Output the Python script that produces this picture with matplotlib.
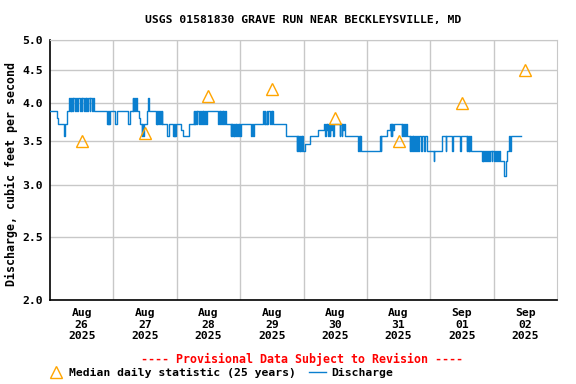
import matplotlib
matplotlib.use("Agg")
import matplotlib.pyplot as plt
from matplotlib.lines import Line2D
from matplotlib.ticker import FixedLocator, NullFormatter, NullLocator

# hours since Aug 26 2025 00:00, discharge (cfs) held until the next entry
discharge_steps = [
    (0.0, 3.89), (2.5, 3.80), (3.0, 3.72), (5.3, 3.56), (5.8, 3.72), (6.5, 3.89),
    (7.2, 4.07), (7.6, 3.89), (7.8, 4.07), (8.1, 3.89), (8.3, 4.07), (8.6, 3.89),
    (8.8, 4.07), (9.5, 3.89), (9.8, 4.07), (10.3, 3.89), (10.6, 4.07), (11.3, 3.89),
    (11.6, 4.07), (12.0, 3.89), (12.3, 4.07), (12.8, 3.89), (13.1, 4.07), (13.5, 3.89),
    (13.8, 4.07), (14.2, 3.89), (14.5, 4.07), (15.0, 3.89), (15.3, 4.07), (15.8, 3.89),
    (16.1, 4.07), (16.6, 3.89),
    (21.5, 3.72), (21.8, 3.89), (22.0, 3.72), (22.3, 3.89), (22.5, 3.72), (22.7, 3.89),
    (24.6, 3.72), (25.2, 3.89), (29.7, 3.72), (30.3, 3.89),
    (31.3, 4.07), (31.6, 3.89), (31.8, 4.07), (32.2, 3.89), (32.4, 4.07), (32.8, 3.89),
    (33.8, 3.80), (34.0, 3.72), (34.7, 3.56), (35.0, 3.72), (35.4, 3.56), (35.7, 3.72),
    (36.6, 3.89), (37.2, 4.07), (37.6, 3.89),
    (40.1, 3.72), (40.4, 3.89), (40.7, 3.72), (41.0, 3.89), (41.4, 3.72), (41.7, 3.89),
    (42.0, 3.72), (42.3, 3.89), (42.6, 3.72),
    (44.4, 3.56), (45.2, 3.72), (46.7, 3.56), (46.9, 3.72), (47.1, 3.56), (47.3, 3.72),
    (47.5, 3.56), (47.8, 3.72), (49.5, 3.64), (50.2, 3.56), (52.8, 3.72), (54.5, 3.89),
    (54.7, 3.72), (54.9, 3.89), (55.1, 3.72), (55.3, 3.89), (55.6, 3.72), (55.8, 3.89),
    (56.6, 3.72), (56.9, 3.89), (57.3, 3.72), (57.5, 3.89), (57.8, 3.72), (58.0, 3.89),
    (58.4, 3.72), (58.7, 3.89), (59.0, 3.72), (59.3, 3.89),
    (63.7, 3.72), (63.9, 3.89), (64.2, 3.72), (64.4, 3.89), (64.7, 3.72), (65.0, 3.89),
    (65.4, 3.72), (65.6, 3.89), (65.9, 3.72), (66.1, 3.89), (66.5, 3.72),
    (68.5, 3.56), (68.7, 3.72), (68.9, 3.56), (69.1, 3.72), (69.3, 3.56), (69.5, 3.72),
    (69.8, 3.56), (70.0, 3.72), (70.3, 3.56), (70.5, 3.72), (70.9, 3.56), (71.1, 3.72),
    (71.4, 3.56), (71.6, 3.72), (71.9, 3.56), (72.2, 3.72),
    (76.1, 3.56), (76.4, 3.72), (76.8, 3.56), (77.1, 3.72),
    (80.7, 3.89), (81.0, 3.72), (81.3, 3.89), (81.6, 3.72), (82.0, 3.89), (82.3, 3.72),
    (82.7, 3.89), (83.3, 3.72), (83.6, 3.89), (84.0, 3.72), (84.2, 3.89), (84.5, 3.72),
    (89.3, 3.56), (93.4, 3.38), (93.6, 3.56), (93.8, 3.38), (94.0, 3.56), (94.2, 3.38),
    (94.5, 3.56), (94.7, 3.38), (95.0, 3.56), (95.3, 3.38), (95.6, 3.56), (95.9, 3.38),
    (96.4, 3.47), (98.3, 3.56), (101.5, 3.64), (103.6, 3.72),
    (104.3, 3.56), (104.5, 3.72), (104.8, 3.64), (105.0, 3.72), (105.3, 3.56), (105.5, 3.72),
    (106.0, 3.56), (106.2, 3.72), (106.6, 3.64), (106.8, 3.72), (107.2, 3.56), (107.4, 3.72),
    (109.8, 3.56), (110.0, 3.72), (110.4, 3.56), (110.6, 3.72), (111.0, 3.64), (111.3, 3.72),
    (111.7, 3.56), (116.8, 3.38), (117.0, 3.56), (117.3, 3.38), (117.5, 3.56), (117.8, 3.38),
    (125.0, 3.56), (125.2, 3.38), (125.4, 3.56), (127.7, 3.64), (128.7, 3.72),
    (129.0, 3.56), (129.2, 3.72), (129.5, 3.56), (129.7, 3.72), (130.0, 3.64), (130.3, 3.72),
    (133.2, 3.56), (133.4, 3.72), (133.8, 3.56), (134.0, 3.72), (134.5, 3.56), (134.8, 3.72),
    (135.1, 3.56), (136.3, 3.38), (136.5, 3.56), (136.8, 3.38), (137.0, 3.56), (137.3, 3.38),
    (137.5, 3.56), (137.9, 3.38), (138.1, 3.56), (138.5, 3.38), (138.8, 3.56), (139.5, 3.38),
    (139.8, 3.56), (140.5, 3.38), (140.8, 3.56), (141.6, 3.38), (142.0, 3.56), (142.6, 3.38),
    (145.4, 3.26), (145.6, 3.38), (148.6, 3.56), (149.8, 3.38), (150.0, 3.56),
    (152.2, 3.38), (152.5, 3.56), (155.3, 3.38), (155.6, 3.56), (157.8, 3.38), (158.0, 3.56),
    (158.3, 3.38), (158.5, 3.56), (158.8, 3.38), (159.0, 3.56), (159.3, 3.38),
    (163.5, 3.26), (163.8, 3.38), (164.1, 3.26), (164.4, 3.38), (164.8, 3.26), (165.1, 3.38),
    (165.6, 3.26), (165.9, 3.38), (166.4, 3.26), (166.7, 3.38), (167.2, 3.26), (167.5, 3.38),
    (168.0, 3.26), (168.4, 3.38), (168.9, 3.26), (169.2, 3.38), (169.7, 3.26), (170.0, 3.38),
    (170.4, 3.26), (171.9, 3.10), (172.5, 3.26), (173.0, 3.38), (173.9, 3.56), (174.3, 3.38),
    (174.6, 3.56), (178.3, 3.56),
]
flow_hours = [h for h, v in discharge_steps]
flow_cfs = [v for h, v in discharge_steps]

median_hours = [12, 36, 60, 84, 108, 132, 156, 180]
median_cfs = [3.5, 3.6, 4.1, 4.2, 3.8, 3.5, 4.0, 4.5]

day_months = ["Aug", "Aug", "Aug", "Aug", "Aug", "Aug", "Sep", "Sep"]
day_numbers = ["26", "27", "28", "29", "30", "31", "01", "02"]
y_ticks = [2.0, 2.5, 3.0, 3.5, 4.0, 4.5, 5.0]

mono = "DejaVu Sans Mono"
blue = "#0a7fcf"
orange = "#ffa500"
gridc = "#c8c8c8"

fig = plt.figure(figsize=(5.76, 3.84), dpi=100)
ax = fig.add_axes([50/576, 1 - 300/384, 507/576, 260/384])

ax.plot(flow_hours, flow_cfs, drawstyle="steps-post", color=blue, lw=1.0, zorder=3)
ax.plot(median_hours, median_cfs, ls="none", marker="^", ms=8, mfc="none",
        mec=orange, mew=1.0, zorder=4)

ax.set_yscale("log")
ax.set_ylim(2.0, 5.0)
ax.set_xlim(0, 192)
ax.yaxis.set_major_locator(FixedLocator(y_ticks))
ax.yaxis.set_minor_locator(NullLocator())
ax.yaxis.set_minor_formatter(NullFormatter())
ax.set_yticks(y_ticks)
ax.set_yticklabels(["%.1f" % t for t in y_ticks], fontfamily=mono,
                   fontweight="bold", fontsize=8.2)

ax.set_xticks(median_hours)
ax.set_xticklabels([m + "\n" + d + "\n2025" for m, d in zip(day_months, day_numbers)],
                   fontfamily=mono, fontweight="bold", fontsize=8.2, linespacing=1.15)
ax.set_xticks(range(24, 192, 24), minor=True)
ax.tick_params(axis="both", which="both", length=0)
ax.tick_params(axis="x", pad=6)
ax.tick_params(axis="y", pad=5)

ax.grid(True, which="minor", axis="x", color=gridc, lw=1.0)
ax.grid(True, which="major", axis="y", color=gridc, lw=1.0)
for s in ["top", "right"]:
    ax.spines[s].set_color(gridc)
for s in ["left", "bottom"]:
    ax.spines[s].set_color("black")
    ax.spines[s].set_linewidth(1.2)

ax.set_ylabel("Discharge, cubic feet per second", fontfamily=mono,
              fontweight="bold", fontsize=8.4)
ax.yaxis.set_label_coords(-0.063, 0.483)
fig.text(303/576, 1 - 20/384, "USGS 01581830 GRAVE RUN NEAR BECKLEYSVILLE, MD",
         ha="center", va="center", fontfamily=mono, fontweight="bold", fontsize=8.2)
fig.text(302/576, 1 - 359/384, "---- Provisional Data Subject to Revision ----",
         ha="center", va="center", fontfamily=mono, fontweight="bold",
         fontsize=8.4, color="red")

handles = [
    Line2D([], [], ls="none", marker="^", ms=8, mfc="none", mec=orange, mew=1.0),
    Line2D([], [], color=blue, lw=1.0),
]
fig.legend(handles, ["Median daily statistic (25 years)", "Discharge"],
           loc="center left", bbox_to_anchor=(47/576, 1 - 373/384), ncol=2,
           frameon=False, borderpad=0, borderaxespad=0, handlelength=1.5,
           handletextpad=0.4, columnspacing=1.2,
           prop={"family": mono, "weight": "bold", "size": 8.2})

fig.savefig("out.png", dpi=100)
